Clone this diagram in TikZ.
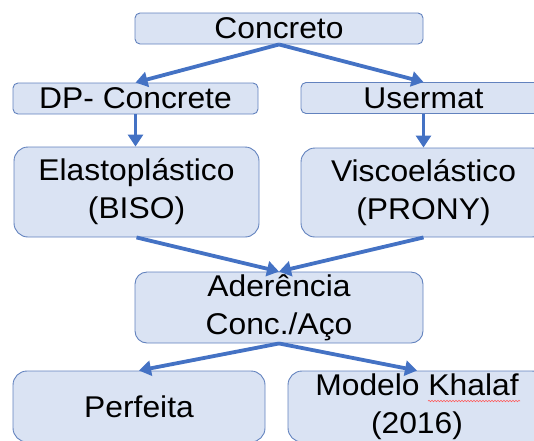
\documentclass[tikz,border=0pt]{standalone}
\usepackage{fontspec}
\setmainfont{Liberation Sans}[FakeStretch=1.06]
\usetikzlibrary{arrows.meta,decorations.pathmorphing}
\definecolor{boxfill}{RGB}{218,227,243}
\definecolor{boxline}{RGB}{98,130,190}
\definecolor{flowblue}{RGB}{68,114,196}

\begin{document}
\begin{tikzpicture}[x=1pt, y=-1pt,
  box/.style={draw=boxline, fill=boxfill, line width=0.9pt, inner sep=0pt,
    align=center, font=\fontsize{30}{38}\selectfont},
  flat/.style={box, rounded corners=5pt, minimum height=31pt},
  tall/.style={box, rounded corners=14pt},
  flow/.style={-{Triangle[length=12pt,width=15pt]}, draw=flowblue, line width=3.8pt}]
%% 1 unit = 1 px, y runs downwards
%%   28.5  Concreto
%%   98    DP- Concrete / Usermat
%%   192   Elastoplastico / Viscoelastico
%%   307.5 Aderencia
%%   406.5 Perfeita / Modelo Khalaf (runs off the page)
\useasboundingbox (0,0) rectangle (534,440);
\clip (0,0) rectangle (534,440);

%% ---- Boxes ----
\node[flat, minimum width=288pt] (conc) at (279,28.5) {Concreto};

\node[flat, minimum width=245pt] (dp)   at (135.5,98.5) {DP- Concrete};
\node[flat, minimum width=245pt] (user) at (423.5,98)   {Usermat};

\node[tall, minimum width=245pt, minimum height=90pt] (elasto) at (136.5,192)
  {Elastoplástico\\(BISO)};
\node[tall, minimum width=245pt, minimum height=89pt] (visco)  at (423.5,192.5)
  {Viscoelástico\\(PRONY)};

\node[tall, minimum width=288pt, minimum height=71pt, rounded corners=12pt] (ader)
  at (279,307.5) {Aderência\\Conc./Aço};

\node[tall, minimum width=252pt, minimum height=71pt] (perf) at (139,406.5) {Perfeita};
\node[tall, minimum width=258pt, minimum height=71pt] (khal) at (417,406.5)
  {Modelo Khalaf\\(2016)};

%% ---- Arrows ----
\draw[flow] (conc.south) -- (dp.north);
\draw[flow] (conc.south) -- (user.north);

\draw[flow] (dp.south)   -- (dp.south |- elasto.north);
\draw[flow] (user.south) -- (user.south |- visco.north);

\draw[flow] (elasto.south) -- (ader.north);
\draw[flow] (visco.south)  -- (ader.north);

\draw[flow] (ader.south) -- (perf.north);
\draw[flow] (ader.south) -- (khal.north);

%% spell-check squiggle under Khalaf
\draw[red!65, line width=0.6pt, decorate,
  decoration={snake, amplitude=0.7pt, segment length=3pt}] (428,401) -- (520,401);
\end{tikzpicture}
\end{document}
